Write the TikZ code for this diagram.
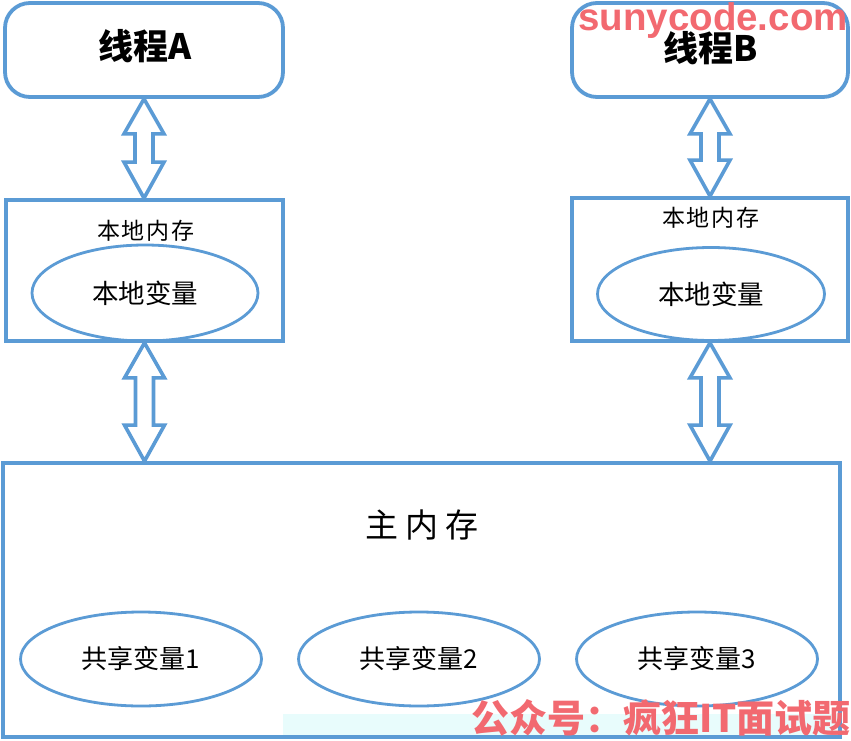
\documentclass[tikz,border=0pt]{standalone}
\usepackage{fontspec}
\setmainfont{Liberation Sans}
\newfontfamily\cjk{Noto Sans CJK SC}
\usetikzlibrary{shapes.geometric,calc}
\definecolor{edgeblue}{RGB}{91,155,213}
\definecolor{wmred}{RGB}{242,105,112}
\definecolor{wmcyan}{RGB}{232,252,252}
\tikzset{
  threadbox/.style={draw=edgeblue,line width=3.8pt,rounded corners=25pt,fill=white,inner sep=0pt},
  membox/.style={draw=edgeblue,line width=3.8pt,fill=white,inner sep=0pt},
  varell/.style={ellipse,draw=edgeblue,line width=2.8pt,inner sep=0pt},
  dblarr/.style={draw=edgeblue,line width=3.6pt,line join=miter,fill=white},
  lbl/.style={font=\cjk,text=black,inner sep=0pt},
  wm/.style={text=wmred,inner sep=0pt,font=\bfseries}
}
\newcommand{\dblarrow}[2]{%
  \path[dblarr] let \p1=(#1), \p2=(#2) in
    (\x1,\y1) -- (\x1+20pt,\y1-35pt) -- (\x1+9pt,\y1-35pt) -- (\x1+9pt,\y2+36pt)
    -- (\x1+20pt,\y2+36pt) -- (\x1,\y2) -- (\x1-20pt,\y2+36pt) -- (\x1-9pt,\y2+36pt)
    -- (\x1-9pt,\y1-35pt) -- (\x1-20pt,\y1-35pt) -- cycle;}
\begin{document}
\begin{tikzpicture}[x=1pt,y=-1pt]
\useasboundingbox[fill=white] (0,0) rectangle (851,741);
% threads
\node[threadbox,minimum width=278pt,minimum height=94pt] (ta) at (144,50) {};
\node[lbl,font=\cjk\bfseries\fontsize{35}{40}\selectfont] (tatext) at (145,46) {线程A};
\node[threadbox,minimum width=276pt,minimum height=94pt] (tb) at (710,50) {};
% local memories
\node[membox,minimum width=277pt,minimum height=141pt] (la) at (144.5,270.5) {};
\node[membox,minimum width=276pt,minimum height=143pt] (lb) at (710,269.5) {};
\node[lbl,font=\cjk\fontsize{23}{26}\selectfont] (latext) at (146,231) {本\hspace{2pt}地\hspace{2pt}内\hspace{2pt}存};
\node[lbl,font=\cjk\fontsize{23}{26}\selectfont] (lbtext) at (711,218) {本\hspace{2pt}地\hspace{2pt}内\hspace{2pt}存};
\node[varell,minimum width=226pt,minimum height=96pt] (va) at (145,293) {};
\node[lbl,font=\cjk\fontsize{26.5}{30}\selectfont] (vatext) at (145,293) {本地变量};
\node[varell,minimum width=227pt,minimum height=93pt] (vb) at (711,294) {};
\node[lbl,font=\cjk\fontsize{26.5}{30}\selectfont] (vbtext) at (711,294) {本地变量};
% main memory
\node[membox,minimum width=837pt,minimum height=274pt] (mm) at (421.5,600) {};
\node[lbl,font=\cjk\fontsize{33}{36}\selectfont] (mmtext) at (422,525) {主\hspace{7pt}内\hspace{7pt}存};
\node[varell,minimum width=241pt,minimum height=94pt] (s1) at (141,659) {};
\node[lbl,font=\cjk\fontsize{26}{30}\selectfont] (s1text) at (141,659) {共享变量1};
\node[varell,minimum width=241pt,minimum height=94pt] (s2) at (419,659) {};
\node[lbl,font=\cjk\fontsize{26}{30}\selectfont] (s2text) at (419,659) {共享变量2};
\node[varell,minimum width=241pt,minimum height=94pt] (s3) at (697,659) {};
\node[lbl,font=\cjk\fontsize{26}{30}\selectfont] (s3text) at (697,659) {共享变量3};
% coordinates on the main memory top edge below each local memory
\coordinate (ma) at ($(mm.north west)!0.1692!(mm.north east)$);
\coordinate (mb) at ($(mm.north west)!0.8459!(mm.north east)$);
% double arrows
\dblarrow{ta.south}{la.north}
\dblarrow{tb.south}{lb.north}
\dblarrow{la.south}{ma}
\dblarrow{lb.south}{mb}
% thread B label and watermarks
\node[lbl,font=\cjk\bfseries\fontsize{35}{40}\selectfont] (tbtext) at (711,48) {线程B};
\fill[wmcyan] (283,714) rectangle (838,735);
\node[wm,font=\bfseries\fontsize{38.5}{40}\selectfont] (wm1) at (713,21) {sunycode.com};
\node[wm,font=\cjk\bfseries\fontsize{38}{40}\selectfont] (wm2) at (661,718) {公众号：疯狂IT面试题};
\end{tikzpicture}
\end{document}
